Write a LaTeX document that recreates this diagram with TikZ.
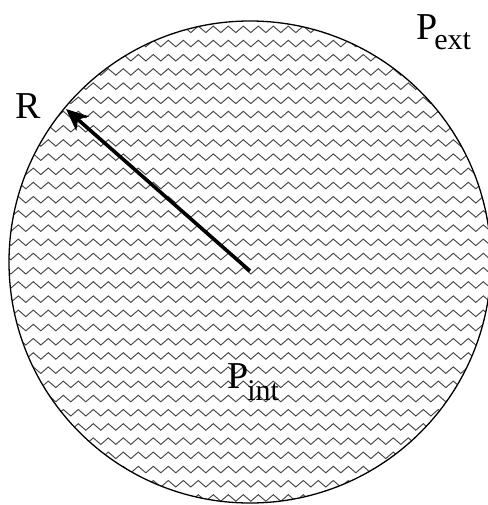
\documentclass[tikz,border=0pt]{standalone}
\usepackage{fontspec}
\setmainfont{Liberation Serif}
\usetikzlibrary{arrows.meta}
\begin{document}
\begin{tikzpicture}[x=1pt,y=-1pt,
  zz/.style={draw=black!72, line width=0.95pt, line join=miter},
  rim/.style={draw=black, line width=1.3pt},
  lbl/.style={inner sep=0pt, anchor=base west, font=\fontsize{38}{40}\selectfont},
  radius arrow/.style={line width=3.6pt, -{Stealth[length=22pt,width=19pt,inset=6pt]}}]
\useasboundingbox (0,0) rectangle (487,505);
\coordinate (c) at (250,262);
\begin{scope}
\clip (c) circle[radius=241];
\foreach \k in {0,...,34} {
  \draw[zz] (-4.2, 26.1+14.2*\k+6.5) \foreach \i in {1,...,34} { -- ++(7.5,-6.5) -- ++(7.5,6.5) };
}
\end{scope}
\draw[rim] (c) circle[radius=241];
\coordinate (o) at (250,271);
\coordinate (tip) at (66,109);
\draw[radius arrow] (o) -- (tip);
\node[lbl] (R) at (15,119) {R};
\node[lbl] (pext) at (416,40) {P\kern-3pt\raisebox{-10pt}{\fontsize{30}{32}\selectfont ext}};
\node[lbl] (pint) at (227,388) {P\kern-1pt\raisebox{-12pt}{\fontsize{30}{32}\selectfont int}};
\end{tikzpicture}
\end{document}
